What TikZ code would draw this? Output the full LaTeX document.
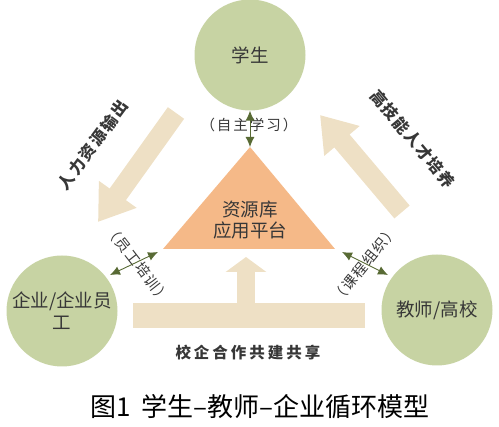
\documentclass[tikz,border=0pt]{standalone}
\usepackage{fontspec}
\newfontfamily\cjk{Noto Sans CJK SC}
\usetikzlibrary{arrows.meta}
\definecolor{cgreen}{RGB}{199,211,163}
\definecolor{cbeige}{RGB}{238,224,197}
\definecolor{corange}{RGB}{245,185,136}
\definecolor{cdark}{RGB}{88,106,52}
\definecolor{tgray}{RGB}{55,55,55}
\newcommand\lsp[1]{\hspace{#1}}
\tikzset{
  circ/.style={circle, fill=cgreen, minimum size=111pt, inner sep=0pt,
    font=\cjk\fontsize{18.5}{22}\selectfont, text=tgray, align=center},
  fat/.style={draw=cbeige, line width=20pt, -{Triangle[length=34pt,width=44pt]}},
  dbl/.style={draw=cdark, line width=0.9pt,
    {Latex[length=10pt,width=9pt]}-{Latex[length=10pt,width=9pt]}},
  lbl/.style={font=\cjk\fontsize{14.5}{16}\selectfont, text=tgray, inner sep=0pt},
  blbl/.style={font=\cjk\bfseries\fontsize{16}{18}\selectfont, text=tgray, inner sep=0pt},
}
\begin{document}
\begin{tikzpicture}[x=1pt,y=-1pt]
\useasboundingbox (0,0) rectangle (499,427);
% circles
\node[circ] (stu) at (250,55) {学生};
\node[circ] (ent) at (62,311) {企业/企业员\\工};
\node[circ] (tea) at (437,310) {教师/高校};
% triangle
\coordinate (apex) at (250,147);
\coordinate (bl) at (163,249);
\coordinate (br) at (335,249);
\fill[corange] (apex) -- (bl) -- (br) -- cycle;
\node[font=\cjk\fontsize{18.5}{21}\selectfont, text=tgray, align=center] (plat) at (250,220) {资源库\\应用平台};
% big arrows
\coordinate (lt) at (176,113);
\coordinate (lh) at (98,222);
\coordinate (rt) at (402,212);
\coordinate (rh) at (320,115);
\draw[fat] (lt) -- (lh);
\draw[fat] (rt) -- (rh);
% bottom bar and up arrow
\node[rectangle, fill=cbeige, minimum width=232pt, minimum height=25pt, inner sep=0pt] (bar) at (249,315.5) {};
\coordinate (uph) at (246,257);
\draw[draw=cbeige, line width=18pt, -{Triangle[length=15pt,width=40pt]}] (bar.north -| uph) -- (uph);
\node[blbl, font=\cjk\bfseries\fontsize{15.5}{18}\selectfont] (coop) at (248,353)
  {校\lsp{3pt}企\lsp{3pt}合\lsp{3pt}作\lsp{3pt}共\lsp{3pt}建\lsp{3pt}共\lsp{3pt}享};
% rotated labels
\node[blbl, rotate=53.5] (hr) at (93,145)
  {人\lsp{2pt}力\lsp{2pt}资\lsp{2pt}源\lsp{2pt}输\lsp{2pt}出};
\node[blbl, rotate=-50] (hs) at (413,139)
  {高\lsp{1.5pt}技\lsp{1.5pt}能\lsp{1.5pt}人\lsp{1.5pt}才\lsp{1.5pt}培\lsp{1.5pt}养};
\node[lbl] (self) at (249,125)
  {（\lsp{2pt}自\lsp{2pt}主\lsp{2pt}学\lsp{2pt}习\lsp{2pt}）};
\node[lbl, rotate=-52] (train) at (138,264)
  {（\lsp{1.5pt}员\lsp{1.5pt}工\lsp{1.5pt}培\lsp{1.5pt}训\lsp{1.5pt}）};
\node[lbl, rotate=51] (course) at (365,264)
  {（\lsp{1.5pt}课\lsp{1.5pt}程\lsp{1.5pt}组\lsp{1.5pt}织\lsp{1.5pt}）};
% double arrows
\coordinate (la) at (158,252);
\coordinate (lb) at (110,275);
\coordinate (ra) at (342,252);
\coordinate (rb) at (388,275);
\draw[dbl] (stu.south) -- (apex);
\draw[dbl] (la) -- (lb);
\draw[dbl] (ra) -- (rb);
% caption
\node[font=\cjk\fontsize{26}{30}\selectfont, text=black] (cap) at (260,407)
  {图1\lsp{10pt}学生–教师–企业循环模型};
\end{tikzpicture}
\end{document}
